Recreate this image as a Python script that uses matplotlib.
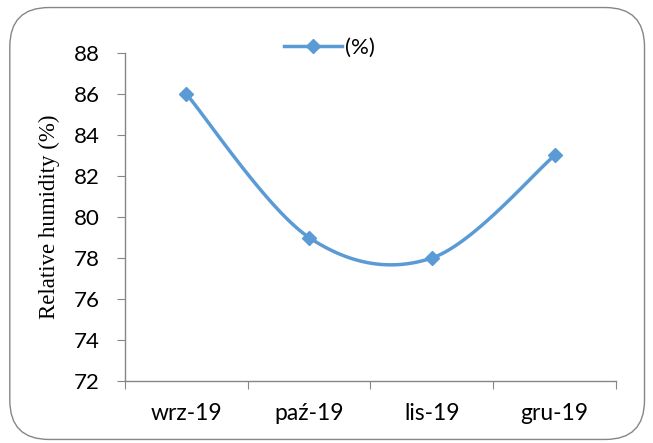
import numpy as np
import matplotlib.pyplot as plt
from matplotlib.patches import FancyBboxPatch
from matplotlib.ticker import FixedLocator

months = ['wrz-19', 'paź-19', 'lis-19', 'gru-19']
humidity = [86, 79, 78, 83]
series_name = '(%)'

blue = '#5B9BD5'
grey = '#868686'


def smooth(xs, ys, n=40):
    # Catmull-Rom curve through the points, like Excel's "smoothed line"
    xs = np.asarray(xs, float)
    ys = np.asarray(ys, float)
    px = np.concatenate([[xs[0]], xs, [xs[-1]]])
    py = np.concatenate([[ys[0]], ys, [ys[-1]]])
    outx, outy = [], []
    for i in range(1, len(px) - 2):
        t = np.linspace(0, 1, n)
        mx0 = (px[i + 1] - px[i - 1]) / 2
        mx1 = (px[i + 2] - px[i]) / 2
        my0 = (py[i + 1] - py[i - 1]) / 2
        my1 = (py[i + 2] - py[i]) / 2
        h00 = 2 * t**3 - 3 * t**2 + 1
        h10 = t**3 - 2 * t**2 + t
        h01 = -2 * t**3 + 3 * t**2
        h11 = t**3 - t**2
        outx.append(h00 * px[i] + h10 * mx0 + h01 * px[i + 1] + h11 * mx1)
        outy.append(h00 * py[i] + h10 * my0 + h01 * py[i + 1] + h11 * my1)
    return np.concatenate(outx), np.concatenate(outy)


fig = plt.figure(figsize=(6.53, 4.43), dpi=100)
ax = fig.add_axes([0.1914, 0.1399, 0.7519, 0.7405])

# rounded chart frame
frame = FancyBboxPatch((0.015, 0.008), 0.972, 0.975,
                       boxstyle='round,pad=0,rounding_size=0.06',
                       transform=fig.transFigure, facecolor='none',
                       edgecolor=grey, linewidth=1.0, mutation_aspect=653 / 443)
fig.patches.append(frame)

x = np.arange(len(months))
sx, sy = smooth(x, humidity)
ax.plot(sx, sy, color=blue, linewidth=2.5, zorder=2)
ax.plot(x, humidity, linestyle='none', marker='D', markersize=7.5,
        color=blue, zorder=3)
ax.plot([], [], color=blue, linewidth=2.5, marker='D', markersize=7.5,
        label=series_name)

ax.set_xlim(-0.5, len(months) - 0.5)
ax.set_ylim(72, 88)
ax.set_yticks(np.arange(72, 89, 2))
ax.xaxis.set_major_locator(FixedLocator(np.arange(-0.5, len(months), 1)))
ax.set_xticklabels([])
ax.xaxis.set_minor_locator(FixedLocator(x))
ax.set_xticklabels(months, minor=True)

for s in ['top', 'right']:
    ax.spines[s].set_visible(False)
for s in ['left', 'bottom']:
    ax.spines[s].set_color(grey)
    ax.spines[s].set_linewidth(1.0)

tick_font = 'Lato'
ax.tick_params(axis='y', which='major', length=6, color=grey, pad=12,
               labelsize=16, labelfontfamily=tick_font)
ax.tick_params(axis='x', which='major', length=6, color=grey)
ax.tick_params(axis='x', which='minor', length=0, pad=16,
               labelsize=16.5, labelfontfamily=tick_font)

ax.set_ylabel('Relative humidity (%)', family='Liberation Serif',
              fontsize=16.5, labelpad=10)

leg = fig.legend(loc='upper center', bbox_to_anchor=(0.505, 0.96),
                 frameon=False, handlelength=2.6, handletextpad=0.15,
                 prop={'family': tick_font, 'size': 16})

fig.savefig('out.png', dpi=100)
